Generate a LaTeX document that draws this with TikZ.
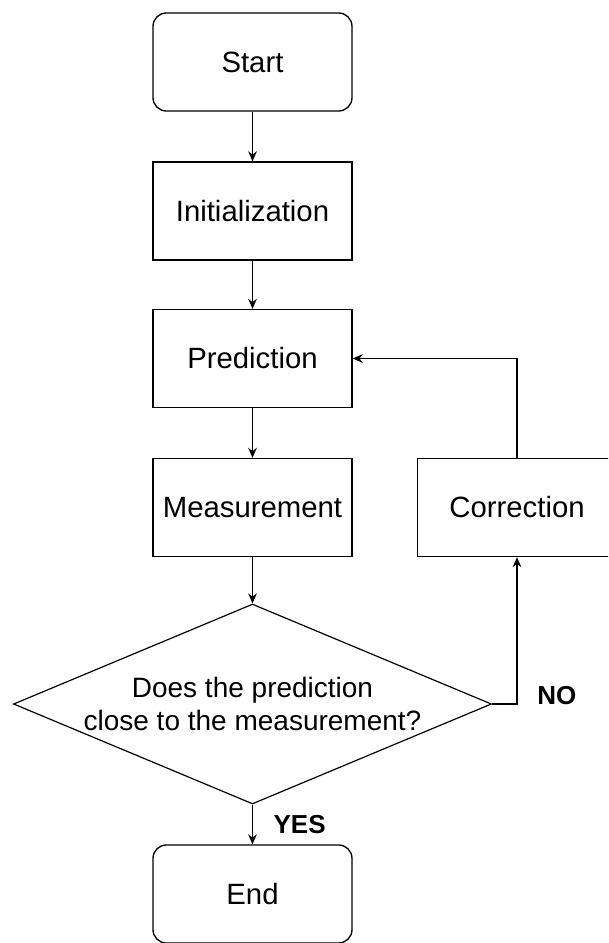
\documentclass[tikz,border=0pt]{standalone}
\usepackage{fontspec}
\setmainfont{Liberation Sans}
\usetikzlibrary{shapes.geometric,arrows.meta}
\begin{document}
\begin{tikzpicture}[x=0.75pt,y=-0.75pt,
	every node/.style={font=\fontsize{22}{26}\selectfont},
	box/.style={draw=black,line width=1pt,minimum width=149.25pt,minimum height=73.5pt,inner sep=0pt},
	term/.style={box,rounded corners=10pt},
	decision/.style={draw=black,line width=0.9pt,diamond,minimum width=358.5pt,minimum height=150pt,inner sep=0pt},
	arr/.style={-{Stealth[length=7.5pt,width=6.5pt]},line width=1pt},
	lbl/.style={font=\fontsize{19.5}{22}\selectfont\bfseries}]
	\clip (0,0) rectangle (608,943);
	\node[term] (start) at (252.5,62) {Start};
	\node[box] (init) at (252.5,211) {Initialization};
	\node[box] (pred) at (252.5,358.5) {Prediction};
	\node[box] (meas) at (252.5,507.5) {Measurement};
	\node[box] (corr) at (517,507.5) {Correction};
	\node[decision] (dec) at (252.5,704) {};
	\node[align=center,font=\fontsize{21}{24.5}\selectfont] (q) at (dec.center) {Does the prediction\\close to the measurement?};
	\node[term] (end) at (252.5,894) {End};
	\draw[arr] (start) -- (init);
	\draw[arr] (init) -- (pred);
	\draw[arr] (pred) -- (meas);
	\draw[arr] (meas) -- (dec.north);
	\draw[arr] (dec.east) -| node[pos=0.5,anchor=base west,xshift=11.5pt,lbl]{NO} (corr.south);
	\draw[arr] (corr.north) |- (pred.east);
	\draw[arr] (dec.south) -- node[midway,anchor=west,xshift=12pt,lbl]{YES} (end.north);
\end{tikzpicture}
\end{document}
